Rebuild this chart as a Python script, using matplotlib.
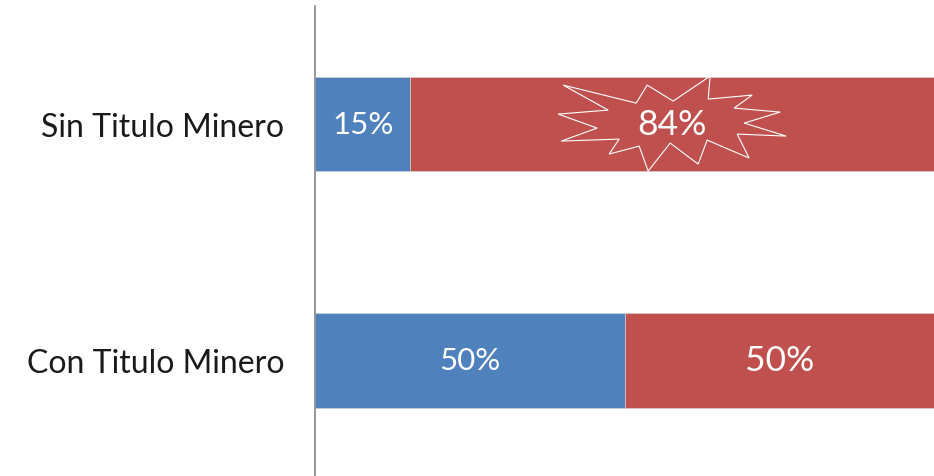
import matplotlib.pyplot as plt
from matplotlib.patches import Polygon
import matplotlib.transforms as mtransforms

categories = ['Con Titulo Minero', 'Sin Titulo Minero']
con_titulo = [50.0, 50.0]      # blue, red
sin_titulo = [15.4, 84.6]
labels_con = ['50%', '50%']
labels_sin = ['15%', '84%']

blue = '#4F81BD'
red = '#C0504D'

plt.rcParams['font.family'] = ['Lato', 'DejaVu Sans']

fig = plt.figure(figsize=(9.34, 4.77), dpi=100)
ax = fig.add_axes([315 / 934, 0, 1 - 315 / 934, 470 / 477])

blues = [con_titulo[0], sin_titulo[0]]
reds = [con_titulo[1], sin_titulo[1]]
h = 0.4
ax.barh([0, 1], blues, height=h, color=blue, edgecolor='#d9d9d9', linewidth=0.4)
ax.barh([0, 1], reds, left=blues, height=h, color=red, edgecolor='#d9d9d9', linewidth=0.4)

for y, labs in zip([0, 1], [labels_con, labels_sin]):
    b = blues[y]
    r = reds[y]
    ax.text(b / 2, y, labs[0], ha='center', va='center', color='white', fontsize=22.5)
    ax.text(b + r / 2, y, labs[1], ha='center', va='center', color='white', fontsize=25.5)

# starburst outline around the 84% label (offsets in pixels from label centre)
star = [(-109, 39), (-36, 21), (-25, 39), (1, 23), (38, 48), (36, 25), (80, 29),
        (62, 16), (108, 12), (72, 1), (114, -12), (65, -10), (77, -34), (35, -16),
        (26, -40), (-2, -19), (-24, -47), (-33, -22), (-63, -30), (-53, -15),
        (-111, -17), (-75, -4), (-114, 10), (-64, 14)]
cx = sin_titulo[0] + sin_titulo[1] / 2
tr = fig.dpi_scale_trans + mtransforms.ScaledTranslation(cx, 1, ax.transData)
ax.add_patch(Polygon([(dx / 100, dy / 100) for dx, dy in star], closed=True,
                     fill=False, edgecolor='white', linewidth=0.8, transform=tr,
                     clip_on=False))

ax.set_xlim(0, 100)
ax.set_ylim(-0.49, 1.5)
ax.set_yticks([0, 1])
ax.set_yticklabels(categories, fontsize=23, color='#1a1a1a')
ax.set_xticks([])
ax.tick_params(axis='y', length=0, pad=22)
for s in ['top', 'right', 'bottom']:
    ax.spines[s].set_visible(False)
ax.spines['left'].set_color('#868686')
ax.spines['left'].set_linewidth(1.2)

fig.savefig('out.png', dpi=100)
